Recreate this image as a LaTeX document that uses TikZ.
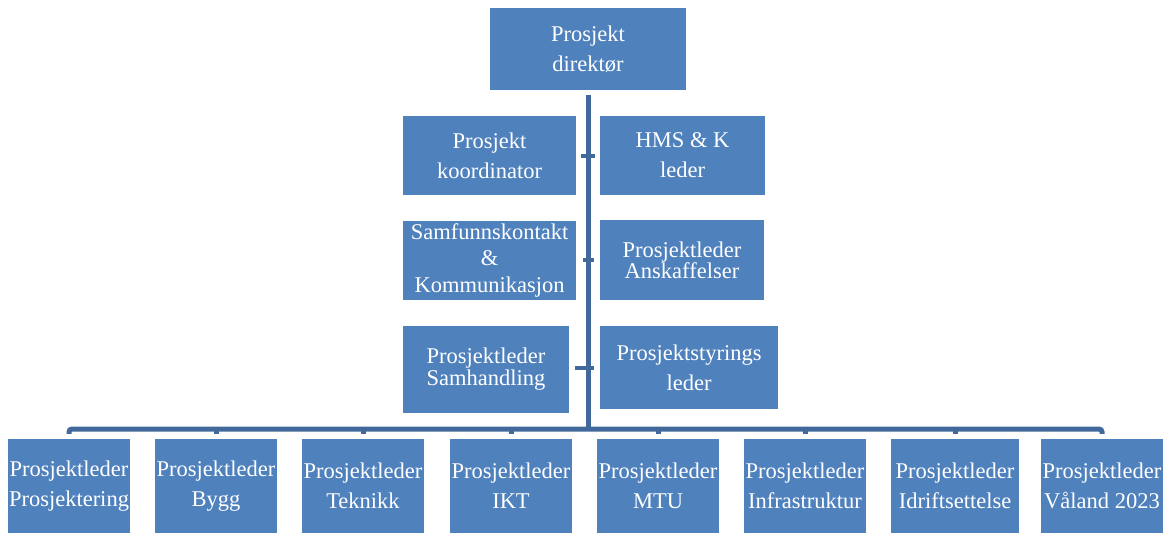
\documentclass[tikz,border=0pt]{standalone}
\usepackage{tikz}
\usepackage{fontspec}
\setmainfont{Liberation Serif}
\definecolor{boxblue}{HTML}{4F81BD}
\definecolor{linkblue}{HTML}{41699B}

\begin{document}
\begin{tikzpicture}[x=1pt, y=-1pt, every node/.style={rectangle, fill=boxblue, text=white, align=center, inner sep=0pt, font=\fontsize{22.5}{30}\selectfont}, link/.style={draw=linkblue, line width=5pt}, tick/.style={draw=linkblue, line width=4pt}]
            \useasboundingbox (0,0) rectangle (1165,533);
            \node[minimum width=196pt, minimum height=82pt] (dir) at (588,49) {Prosjekt\\direktør};

            \node[minimum width=173pt, minimum height=79pt] (koord) at (489.5,155.5) {Prosjekt\\koordinator};
            \node[minimum width=173pt, minimum height=79pt] (samf) at (489.5,260.5) {Samfunnskontakt\\[-4pt]\&\\[-3pt]Kommunikasjon};
            \node[minimum width=166pt, minimum height=87pt] (samh) at (486,369.5) {Prosjektleder\\[-8pt]Samhandling};
            \node[minimum width=165pt, minimum height=79pt] (hms) at (682.5,155.5) {HMS \& K\\leder};
            \node[minimum width=164pt, minimum height=80pt] (ansk) at (682,260) {Prosjektleder\\[-9pt]Anskaffelser};
            \node[minimum width=178pt, minimum height=83pt] (styr) at (689,367.5) {Prosjektstyrings\\leder};

            \node[minimum width=122pt, minimum height=94pt] (p1) at (69,486) {Prosjektleder\\Prosjektering};
            \node[minimum width=122pt, minimum height=94pt] (p2) at (216,486) {Prosjektleder\\Bygg};
            \node[minimum width=122pt, minimum height=94pt] (p3) at (363,486) {Prosjektleder\\Teknikk};
            \node[minimum width=122pt, minimum height=94pt] (p4) at (511,486) {Prosjektleder\\IKT};
            \node[minimum width=122pt, minimum height=94pt] (p5) at (658,486) {Prosjektleder\\MTU};
            \node[minimum width=122pt, minimum height=94pt] (p6) at (805,486) {Prosjektleder\\Infrastruktur};
            \node[minimum width=128pt, minimum height=94pt] (p7) at (955,486) {Prosjektleder\\Idriftsettelse};
            \node[minimum width=122pt, minimum height=94pt] (p8) at (1102,486) {Prosjektleder\\Våland 2023};

            \coordinate (bus) at (588,429);
            \coordinate (t1) at (588,155.5); \coordinate (t2) at (588,260); \coordinate (t3) at (588,368);

            \draw[link] ([yshift=-5pt]dir.south) -- (bus);
            \draw[tick] ([xshift=-7pt]t1) -- ([xshift=7pt]t1) ([xshift=-5pt]t2) -- ([xshift=6pt]t2) ([xshift=-13pt]t3) -- ([xshift=6pt]t3);
            \draw[link, rounded corners=3pt] ([yshift=5pt]p1.north) |- (bus) -| ([yshift=5pt]p8.north);
            \draw[link] (p2.north |- bus) -- ([yshift=5pt]p2.north) (p3.north |- bus) -- ([yshift=5pt]p3.north) (p4.north |- bus) -- ([yshift=5pt]p4.north);
            \draw[link] (p5.north |- bus) -- ([yshift=5pt]p5.north) (p6.north |- bus) -- ([yshift=5pt]p6.north) (p7.north |- bus) -- ([yshift=5pt]p7.north);
        \end{tikzpicture}
\end{document}
